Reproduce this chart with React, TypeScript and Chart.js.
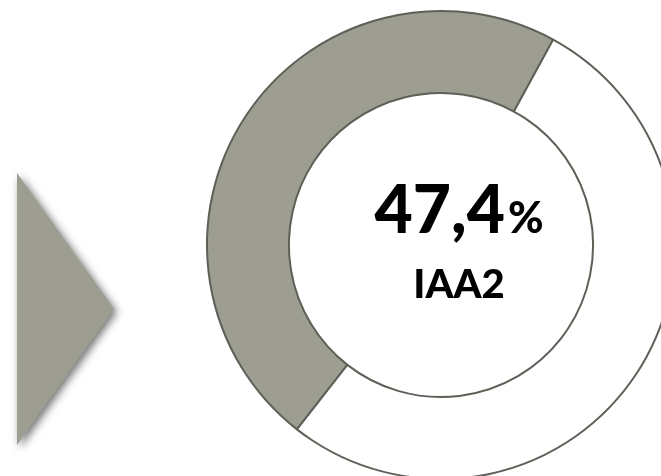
import React, { useEffect, useRef } from "react";
import { Chart, registerables } from "chart.js";

Chart.register(...registerables);

const segmentLabels = ["IAA2", "Other"];
const segmentValues = [47.4, 52.6];
const segmentColors = ["#9d9d91", "#ffffff"];
const centerValue = "47,4";
const centerUnit = "%";
const centerLabel = "IAA2";

const centerTextPlugin = {
  id: "centerText",
  afterDraw(chart: any) {
    const ctx = chart.ctx;
    const meta = chart.getDatasetMeta(0);
    const arc = meta.data[0];
    const cx = arc.x + 18;
    const cy = arc.y;
    ctx.save();
    ctx.fillStyle = "#000000";
    ctx.textBaseline = "alphabetic";
    ctx.textAlign = "left";
    ctx.font = "900 66px Lato";
    const w1 = ctx.measureText(centerValue).width;
    ctx.font = "900 43px Lato";
    const w2 = ctx.measureText(centerUnit).width;
    const gap = 3;
    const total = w1 + gap + w2;
    const x0 = cx - total / 2;
    ctx.font = "900 66px Lato";
    ctx.fillText(centerValue, x0, cy - 12);
    ctx.font = "900 43px Lato";
    ctx.fillText(centerUnit, x0 + w1 + gap, cy - 12);
    ctx.textAlign = "center";
    ctx.font = "900 40px Lato";
    ctx.fillText(centerLabel, cx, cy + 53);
    ctx.restore();
  },
};

export default function App() {
  const canvasRef = useRef<HTMLCanvasElement | null>(null);

  useEffect(() => {
    const canvas = canvasRef.current;
    if (!canvas) return;
    const chart = new Chart(canvas, {
      type: "doughnut",
      data: {
        labels: segmentLabels,
        datasets: [
          {
            data: segmentValues,
            backgroundColor: segmentColors,
            borderColor: "#5e5f56",
            borderWidth: 2,
          },
        ],
      },
      options: {
        responsive: false,
        animation: false,
        rotation: 218,
        radius: 234,
        cutout: "65%",
        layout: { padding: 0 },
        plugins: {
          legend: { display: false },
          tooltip: { enabled: false },
        },
      },
      plugins: [centerTextPlugin],
    });
    return () => chart.destroy();
  }, []);

  return (
    <div
      style={{
        position: "absolute",
        left: 0,
        top: 0,
        width: 661,
        height: 476,
        overflow: "hidden",
        background: "#ffffff",
      }}
    >
      <div
        style={{
          position: "absolute",
          left: 17,
          top: 173,
          width: 97,
          height: 272,
          filter: "drop-shadow(3px 3px 4px rgba(0,0,0,0.55))",
        }}
      >
        <div
          style={{
            width: "100%",
            height: "100%",
            background: "#9d9d91",
            clipPath: "polygon(0 0, 100% 50%, 0 100%)",
          }}
        />
      </div>
      <canvas
        ref={canvasRef}
        width={882}
        height={490}
        style={{ position: "absolute", left: 0, top: 0, width: 882, height: 490 }}
      />
    </div>
  );
}
